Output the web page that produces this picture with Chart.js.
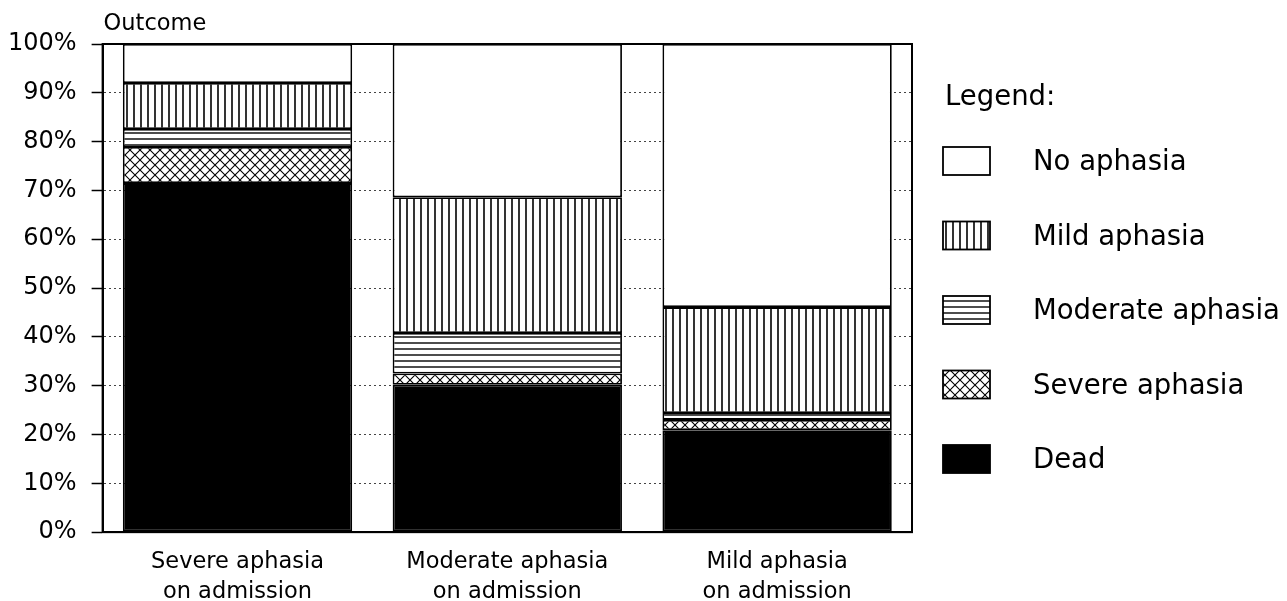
<!DOCTYPE html>
<html>
<head>
<meta charset="utf-8">
<script src="https://cdn.jsdelivr.net/npm/chart.js@4.4.1/dist/chart.umd.min.js"></script>
<style>
  html,body{margin:0;padding:0;background:#fff;}
  #wrap{width:1287px;height:601px;}
</style>
</head>
<body>
<div id="wrap"><canvas id="c" width="1287" height="601"></canvas></div>
<script>
const categories = [["Severe aphasia","on admission"],["Moderate aphasia","on admission"],["Mild aphasia","on admission"]];
const seriesNames = ["Dead","Severe aphasia","Moderate aphasia","Mild aphasia","No aphasia"];
const dead     = [71.5, 30.2, 20.9];
const severe   = [7.4, 2.3, 2.1];
const moderate = [3.7, 8.3, 1.4];
const mild     = [9.4, 27.8, 21.7];
const noAph    = [8.0, 31.4, 53.9];
const yTicks   = [0,10,20,30,40,50,60,70,80,90,100];

const FONT = "'DejaVu Sans', sans-serif";

function makePattern(w, h, draw){
  const cv = document.createElement('canvas');
  cv.width = w; cv.height = h;
  const g = cv.getContext('2d');
  g.fillStyle = '#fff'; g.fillRect(0,0,w,h);
  g.strokeStyle = '#000';
  draw(g);
  return g.createPattern(cv, 'repeat');
}
const vertPat = makePattern(7, 7, g => { g.lineWidth = 1.6; g.beginPath(); g.moveTo(1,0); g.lineTo(1,7); g.stroke(); });
const horzPat = makePattern(6, 6, g => { g.lineWidth = 1.4; g.beginPath(); g.moveTo(0,1); g.lineTo(6,1); g.stroke(); });
const crossPat = makePattern(10, 10, g => {
  g.lineWidth = 1.1; g.beginPath();
  g.moveTo(-1,-1); g.lineTo(11,11);
  g.moveTo(11,-1); g.lineTo(-1,11);
  g.stroke();
});

const fills = ['#000', crossPat, horzPat, vertPat, '#fff'];
const values = [dead, severe, moderate, mild, noAph];

const datasets = seriesNames.map((n,i) => ({
  label: n,
  data: values[i],
  backgroundColor: fills[i],
  borderColor: '#000',
  borderWidth: 1.8,
  borderSkipped: false,
  barPercentage: 0.85,
  categoryPercentage: 1.0
}));

const decor = {
  id: 'decor',
  afterDatasetsDraw(chart){
    const {ctx, chartArea:a} = chart;
    ctx.save();
    ctx.strokeStyle = '#000'; ctx.lineWidth = 2;
    ctx.strokeRect(a.left, a.top, a.right - a.left, a.bottom - a.top);
    ctx.restore();
  },
  afterDraw(chart){
    const {ctx, chartArea:a} = chart;
    ctx.save();
    ctx.fillStyle = '#000';
    ctx.textBaseline = 'middle';
    ctx.textAlign = 'left';
    ctx.font = "22.5px " + FONT;
    ctx.fillText('Outcome', a.left + 1, 24);
    // legend
    ctx.font = "27.5px " + FONT;
    const lx = a.right + 31;
    ctx.fillText('Legend:', lx + 2, 98);
    const ds = chart.data.datasets;
    const n = ds.length;
    for (let k = 0; k < n; k++){
      const d = ds[n - 1 - k];
      const cy = 161 + k * 74.5;
      const bw = 47, bh = 28;
      ctx.fillStyle = d.backgroundColor;
      ctx.fillRect(lx, cy - bh/2, bw, bh);
      ctx.strokeStyle = '#000'; ctx.lineWidth = 1.8;
      ctx.strokeRect(lx, cy - bh/2, bw, bh);
      ctx.fillStyle = '#000';
      ctx.fillText(d.label, lx + 90, cy + 2);
    }
    ctx.restore();
  }
};

new Chart(document.getElementById('c'), {
  type: 'bar',
  data: { labels: categories, datasets },
  plugins: [decor],
  options: {
    responsive: false,
    animation: false,
    layout: { padding: { left: -7, right: 375, top: 44, bottom: -21 } },
    plugins: { legend: { display: false }, tooltip: { enabled: false }, title: { display: false } },
    scales: {
      x: {
        stacked: true,
        grid: { display: false, drawTicks: false },
        border: { display: true, color: '#000', width: 2 },
        ticks: { color: '#000', font: { family: FONT, size: 22.5, lineHeight: 1.33 }, padding: 15, maxRotation: 0 }
      },
      y: {
        stacked: true,
        min: 0, max: 100,
        afterBuildTicks(scale){ scale.ticks = yTicks.map(v => ({ value: v })); },
        grid: { color: '#444', lineWidth: 1, tickLength: 11, tickColor: '#000', tickWidth: 1.5, drawTicks: true },
        border: { display: true, color: '#000', width: 2, dash: [2, 3] },
        ticks: { color: '#000', font: { family: FONT, size: 24 }, padding: 15, callback: v => v + '%' }
      }
    }
  }
});
</script>
</body>
</html>
